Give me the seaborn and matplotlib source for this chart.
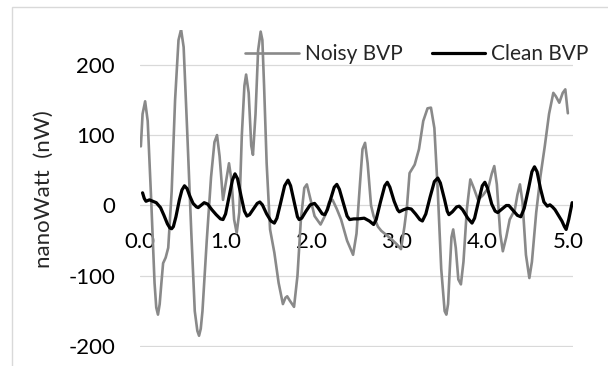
import matplotlib
matplotlib.use("Agg")
import matplotlib.pyplot as plt
import matplotlib.patches as mpatches
import pandas as pd
import seaborn as sns

# --- data (time in s, power in nW) ---
noisy_t = [0.01, 0.03, 0.06, 0.09, 0.13, 0.17, 0.19, 0.21, 0.23, 0.25, 0.27, 0.30,
           0.33, 0.37, 0.41, 0.45, 0.48, 0.51, 0.55, 0.60, 0.64, 0.67, 0.69, 0.71,
           0.73, 0.78, 0.83, 0.87, 0.90, 0.93, 0.97, 1.00, 1.04, 1.07, 1.10, 1.13,
           1.16, 1.19, 1.22, 1.24, 1.27, 1.30, 1.32, 1.35, 1.38, 1.41, 1.43, 1.45,
           1.48, 1.52, 1.57, 1.62, 1.67, 1.70, 1.72, 1.75, 1.80, 1.84, 1.88, 1.92,
           1.95, 1.99, 2.04, 2.11, 2.16, 2.21, 2.25, 2.30, 2.35, 2.42, 2.49, 2.53,
           2.57, 2.60, 2.63, 2.66, 2.70, 2.73, 2.78, 2.82, 2.88, 2.94, 3.00, 3.05,
           3.09, 3.12, 3.15, 3.21, 3.26, 3.31, 3.36, 3.40, 3.44, 3.48, 3.52, 3.56,
           3.58, 3.60, 3.62, 3.64, 3.66, 3.69, 3.72, 3.75, 3.78, 3.82, 3.86, 3.90,
           3.95, 4.01, 4.07, 4.11, 4.14, 4.17, 4.21, 4.24, 4.28, 4.32, 4.38, 4.41,
           4.44, 4.47, 4.51, 4.55, 4.58, 4.63, 4.68, 4.73, 4.78, 4.83, 4.86, 4.90,
           4.94, 4.97, 5.00]
noisy_v = [84, 130, 148, 120, 10, -110, -145, -155, -140, -110, -82, -74,
           -60, 20, 150, 235, 250, 225, 110, -40, -150, -178, -185, -175,
           -150, -50, 40, 90, 100, 70, 8, 30, 60, 35, -20, -39,
           -10, 100, 170, 186, 160, 85, 72, 130, 220, 247, 235, 170,
           60, -34, -67, -110, -140, -131, -129, -135, -144, -100, -20, 25,
           30, 10, -15, -27, -15, 5, 8, -5, -20, -50, -70, -40,
           30, 80, 89, 60, 0, -15, -30, -36, -42, -48, -55, -62,
           -30, -1, 46, 58, 80, 120, 138, 139, 110, 20, -90, -150,
           -155, -140, -90, -45, -34, -60, -105, -112, -80, -5, 37, 25,
           8, 15, 25, 45, 56, 30, -40, -65, -45, -20, -6, 15,
           30, 5, -70, -103, -80, -10, 42, 84, 130, 160, 155, 146,
           160, 165, 131]

clean_t = [0.03, 0.05, 0.07, 0.09, 0.11, 0.15, 0.19, 0.24, 0.28, 0.32, 0.35, 0.37,
           0.39, 0.42, 0.46, 0.49, 0.52, 0.55, 0.58, 0.62, 0.66, 0.68, 0.71, 0.75,
           0.79, 0.84, 0.89, 0.94, 0.97, 1.00, 1.04, 1.08, 1.11, 1.14, 1.18, 1.22,
           1.25, 1.28, 1.33, 1.37, 1.40, 1.43, 1.48, 1.53, 1.57, 1.60, 1.64, 1.69,
           1.73, 1.76, 1.80, 1.84, 1.86, 1.89, 1.94, 1.99, 2.04, 2.08, 2.13, 2.16,
           2.19, 2.23, 2.27, 2.30, 2.33, 2.38, 2.42, 2.45, 2.50, 2.55, 2.62, 2.68,
           2.73, 2.76, 2.81, 2.86, 2.89, 2.92, 2.97, 3.01, 3.03, 3.08, 3.13, 3.17,
           3.22, 3.27, 3.30, 3.34, 3.39, 3.44, 3.48, 3.51, 3.56, 3.59, 3.61, 3.65,
           3.70, 3.73, 3.77, 3.83, 3.88, 3.91, 3.96, 4.00, 4.03, 4.06, 4.11, 4.15,
           4.18, 4.23, 4.28, 4.31, 4.36, 4.41, 4.45, 4.49, 4.54, 4.58, 4.61, 4.64,
           4.68, 4.72, 4.76, 4.79, 4.82, 4.85, 4.89, 4.93, 4.96, 4.98, 5.01, 5.05]
clean_v = [18, 10, 6, 7, 8, 6, 4, -3, -14, -26, -32, -33,
           -30, -16, 8, 22, 28, 24, 14, 3, -2, -3, 0, 4,
           2, -6, -13, -19, -20, -12, 12, 36, 45, 38, 14, -8,
           -15, -13, -4, 3, 5, 1, -12, -22, -25, -18, 2, 28,
           36, 28, 6, -16, -20, -18, -8, 1, 3, -3, -12, -13,
           -6, 10, 26, 30, 23, 2, -15, -20, -19, -19, -18, -22,
           -27, -20, 5, 28, 33, 26, 6, -6, -9, -6, -4, -5,
           -12, -20, -22, -12, 12, 34, 39, 32, 8, -8, -13, -9,
           -2, -1, -6, -18, -25, -18, 8, 28, 33, 25, 2, -8,
           -10, -5, 0, 0, -7, -14, -16, -4, 24, 48, 55, 48,
           24, 5, -1, 1, -2, -6, -14, -22, -30, -34, -20, 4]

x_ticks = [0, 1, 2, 3, 4, 5]
y_ticks = [-200, -100, 0, 100, 200]

NOISY_COLOR = "#898989"
CLEAN_COLOR = "#000000"
GRID_COLOR = "#d9d9d9"

sns.set_theme(style="white")
plt.rcParams['font.family'] = ['Lato', 'DejaVu Sans']

fig = plt.figure(figsize=(6.08, 3.66), dpi=100)
# chart area border, Excel style
fig.patches.append(mpatches.Rectangle((12 / 608, -0.1), 1.2, 1.1 - 7 / 366,
                                      transform=fig.transFigure, fill=False,
                                      edgecolor=GRID_COLOR, lw=1.0))
ax = fig.add_axes([140 / 608, 19 / 366, 433 / 608, 317.5 / 366])

noisy = pd.DataFrame({'t': noisy_t, 'v': noisy_v})
clean = pd.DataFrame({'t': clean_t, 'v': clean_v})
sns.lineplot(data=noisy, x='t', y='v', ax=ax, color=NOISY_COLOR, lw=1.9,
             label='Noisy BVP')
sns.lineplot(data=clean, x='t', y='v', ax=ax, color=CLEAN_COLOR, lw=2.3,
             label='Clean BVP')

ax.set_xlim(0, 5.06)
ax.set_ylim(-201, 250)
ax.set_xticks(x_ticks)
ax.set_xticklabels([f"{v:.1f}" for v in x_ticks])
ax.set_yticks(y_ticks)
ax.set_yticklabels([str(v) for v in y_ticks])
ax.grid(axis='y', color=GRID_COLOR, lw=0.9)
ax.grid(axis='x', visible=False)
for s in ax.spines.values():
    s.set_visible(False)
ax.spines['bottom'].set_position(('data', 0))
ax.tick_params(axis='x', length=0, pad=19, labelsize=16, colors='black')
ax.tick_params(axis='y', length=0, pad=18, labelsize=16, colors='black')
ax.set_xlabel('')
ax.set_ylabel('')
fig.text(44 / 608, 1 - 189 / 366, 'nanoWatt  (nW)', rotation=90,
         ha='center', va='center', fontsize=16)

ax.legend(loc='center', bbox_to_anchor=(417 / 608, 1 - 54 / 366),
          bbox_transform=fig.transFigure, ncol=2, frameon=False,
          fontsize=15, handlelength=2.55, handletextpad=0.3, columnspacing=1.4)

fig.savefig('out.png', dpi=100)
